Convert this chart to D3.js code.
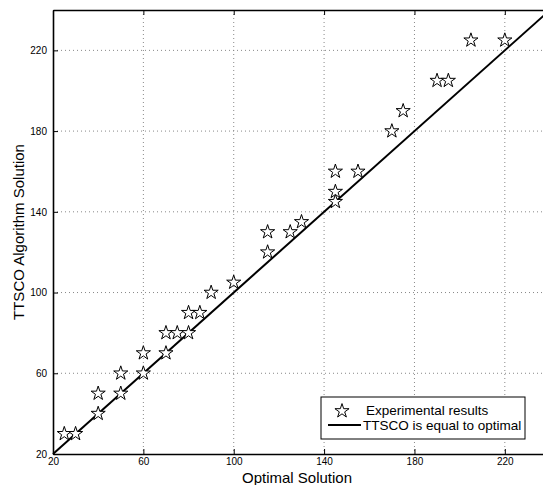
<!DOCTYPE html>
<html>
<head>
<meta charset="utf-8">
<script src="https://cdn.jsdelivr.net/npm/d3@7"></script>
<style>
  body { margin: 0; background: #fff; }
  svg { display: block; font-family: "Liberation Sans", Arial, sans-serif; }
</style>
</head>
<body>
<svg id="chart" width="543" height="485"></svg>
<script>
// values
const optimal = [25, 30, 40, 40, 50, 50, 60, 60, 70, 70, 75, 80, 80, 85, 90,
                 100, 115, 115, 125, 130, 145, 145, 145, 155, 170, 175, 190, 195, 205, 220];
const ttsco   = [30, 30, 40, 50, 50, 60, 60, 70, 70, 80, 80, 80, 90, 90, 100,
                 105, 120, 130, 130, 135, 145, 150, 160, 160, 180, 190, 205, 205, 225, 225];
const tickValues = [20, 60, 100, 140, 180, 220];
const legendLabels = ["Experimental results", "TTSCO is equal to optimal"];

const svg = d3.select("#chart");
const plotLeft = 53, plotRight = 550, plotTop = 10, plotBottom = 454;

const x = d3.scaleLinear().domain([20, 240]).range([plotLeft, plotRight]);
const y = d3.scaleLinear().domain([20, 240]).range([plotBottom, plotTop]);

//dotted grid
const grid = svg.append("g");
tickValues.slice(1).forEach(v => {
    grid.append("line")
        .attr("x1", x(v)).attr("x2", x(v))
        .attr("y1", plotTop).attr("y2", plotBottom)
        .attr("stroke", "#888").attr("stroke-width", 1)
        .attr("stroke-dasharray", "1,3");
    grid.append("line")
        .attr("x1", plotLeft).attr("x2", plotRight)
        .attr("y1", y(v)).attr("y2", y(v))
        .attr("stroke", "#888").attr("stroke-width", 1)
        .attr("stroke-dasharray", "1,3");
});

//axes, ticks point inward like matlab
const xAxis = d3.axisBottom(x).tickValues(tickValues).tickSizeInner(-5).tickSizeOuter(0).tickPadding(9);
const yAxis = d3.axisLeft(y).tickValues(tickValues).tickSizeInner(-5).tickSizeOuter(0).tickPadding(9);
const xTop = d3.axisTop(x).tickValues(tickValues).tickSizeInner(-5).tickSizeOuter(0).tickFormat("");

const gx = svg.append("g").attr("transform", `translate(0,${plotBottom})`).call(xAxis);
const gy = svg.append("g").attr("transform", `translate(${plotLeft},0)`).call(yAxis);
const gt = svg.append("g").attr("transform", `translate(0,${plotTop})`).call(xTop);

[gx, gy, gt].forEach(g => {
    g.select(".domain").attr("stroke", "#000").attr("stroke-width", 1.6);
    g.selectAll(".tick line").attr("stroke", "#000").attr("stroke-width", 1);
    g.selectAll(".tick text").attr("fill", "#000").attr("font-size", 10)
        .attr("font-family", "Liberation Sans, Arial, sans-serif");
});
gx.selectAll(".tick text").attr("dy", "0.2em");
gy.selectAll(".tick text").attr("dx", "0.3em");

//diagonal reference line
svg.append("line")
    .attr("x1", x(20)).attr("y1", y(20))
    .attr("x2", x(240)).attr("y2", y(240))
    .attr("stroke", "#000").attr("stroke-width", 2);

//star markers
const star = d3.symbol().type(d3.symbolStar).size(62);
svg.append("g").selectAll("path")
    .data(optimal.map((o, i) => [o, ttsco[i]]))
    .join("path")
    .attr("d", star)
    .attr("transform", d => `translate(${x(d[0])},${y(d[1])})`)
    .attr("fill", "#fff")
    .attr("stroke", "#000")
    .attr("stroke-width", 1);

//axis titles
svg.append("text")
    .attr("x", 297).attr("y", 483)
    .attr("text-anchor", "middle")
    .attr("font-size", 15)
    .text("Optimal Solution");

svg.append("text")
    .attr("transform", "translate(24,232) rotate(-90)")
    .attr("text-anchor", "middle")
    .attr("font-size", 15)
    .text("TTSCO Algorithm Solution");

//legend
const legend = svg.append("g");
legend.append("rect")
    .attr("x", 321).attr("y", 397)
    .attr("width", 204).attr("height", 42)
    .attr("fill", "#fff").attr("stroke", "#000").attr("stroke-width", 1);
legend.append("path")
    .attr("d", star)
    .attr("transform", "translate(342,411)")
    .attr("fill", "#fff").attr("stroke", "#000").attr("stroke-width", 1);
legend.append("line")
    .attr("x1", 328).attr("x2", 361)
    .attr("y1", 425).attr("y2", 425)
    .attr("stroke", "#000").attr("stroke-width", 2);
legend.append("text")
    .attr("x", 366).attr("y", 415)
    .attr("font-size", 13.5)
    .text(legendLabels[0]);
legend.append("text")
    .attr("x", 363).attr("y", 430)
    .attr("font-size", 13.5)
    .text(legendLabels[1]);
</script>
</body>
</html>
